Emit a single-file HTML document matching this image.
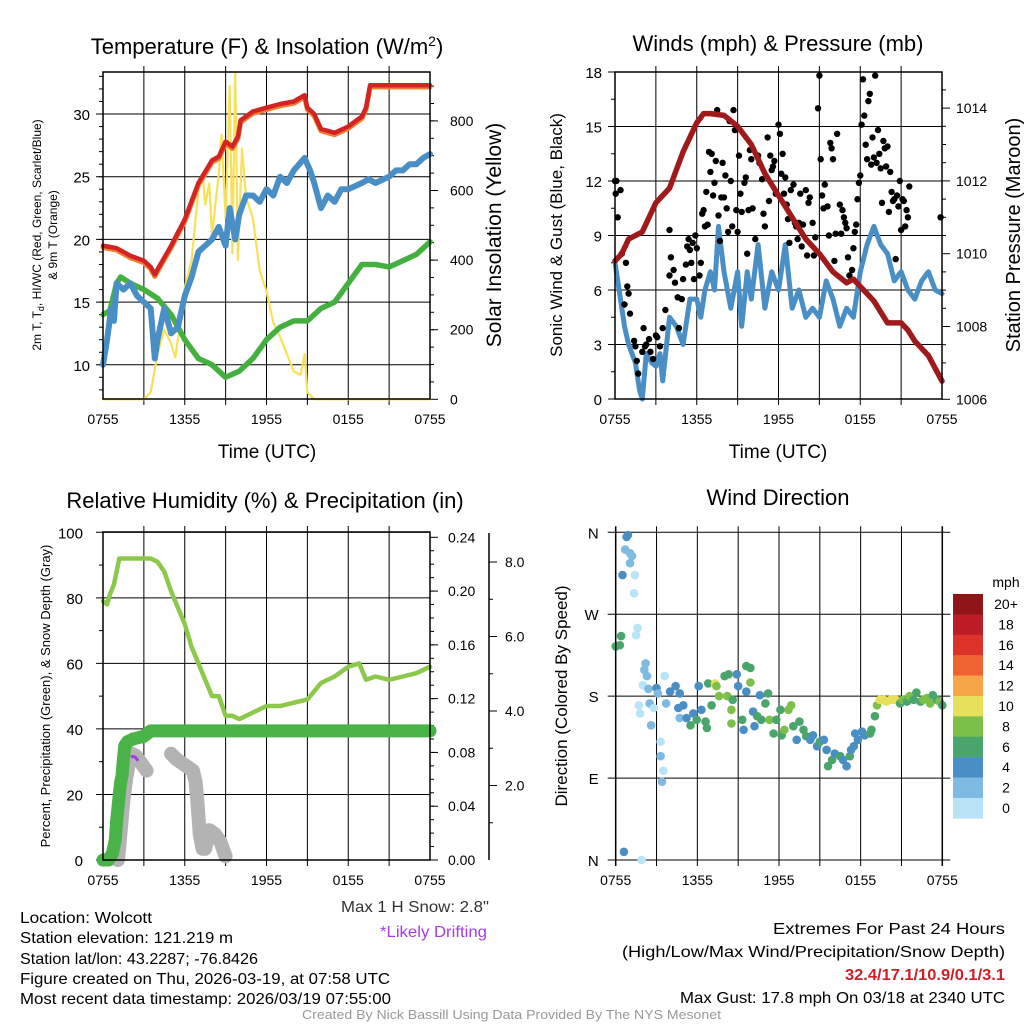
<!DOCTYPE html>
<html><head><meta charset="utf-8"><style>
html,body{margin:0;padding:0;background:#fff}
svg{display:block;font-family:"Liberation Sans",Arial,sans-serif}
</style></head><body>
<svg id="c" width="1024" height="1024" viewBox="0 0 1024 1024" xmlns="http://www.w3.org/2000/svg">
<g font-size="22" text-anchor="middle" fill="#000">
<text x="267" y="54">Temperature (F) &amp; Insolation (W/m<tspan dy="-8" font-size="14">2</tspan><tspan dy="8">)</tspan></text>
<text x="778" y="51">Winds (mph) &amp; Pressure (mb)</text>
<text x="265" y="508">Relative Humidity (%) &amp; Precipitation (in)</text>
<text x="778" y="505">Wind Direction</text>
</g>
<g font-size="19" text-anchor="middle">
<text x="267" y="458">Time (UTC)</text>
<text x="778" y="458">Time (UTC)</text>
</g>
<text transform="translate(41,235) rotate(-90)" font-size="12" text-anchor="middle">2m T, T<tspan font-size="9" dy="3">d</tspan><tspan dy="-3">, HI/WC (Red, Green, Scarlet/Blue)</tspan></text>
<text transform="translate(57,235) rotate(-90)" font-size="12" text-anchor="middle">&amp; 9m T (Orange)</text>
<text transform="translate(501,235) rotate(-90)" font-size="21" text-anchor="middle">Solar Insolation (Yellow)</text>
<text transform="translate(562,235) rotate(-90)" font-size="17" text-anchor="middle">Sonic Wind &amp; Gust (Blue, Black)</text>
<text transform="translate(1020,235) rotate(-90)" font-size="20" text-anchor="middle">Station Pressure (Maroon)</text>
<text transform="translate(50,696) rotate(-90)" font-size="13" text-anchor="middle">Percent, Precipitation (Green), &amp; Snow Depth (Gray)</text>
<text transform="translate(567,696) rotate(-90)" font-size="17" text-anchor="middle">Direction (Colored By Speed)</text>
<g font-size="16">
<text x="341" y="912" textLength="148" lengthAdjust="spacingAndGlyphs" fill="#333">Max 1 H Snow: 2.8"</text>
<text x="380" y="937" textLength="107" lengthAdjust="spacingAndGlyphs" fill="#a33de8">*Likely Drifting</text>
<text x="20" y="923" textLength="132" lengthAdjust="spacingAndGlyphs">Location: Wolcott</text>
<text x="20" y="943" textLength="213" lengthAdjust="spacingAndGlyphs">Station elevation: 121.219 m</text>
<text x="20" y="964" textLength="238" lengthAdjust="spacingAndGlyphs">Station lat/lon: 43.2287; -76.8426</text>
<text x="20" y="984" textLength="370" lengthAdjust="spacingAndGlyphs">Figure created on Thu, 2026-03-19, at 07:58 UTC</text>
<text x="20" y="1004" textLength="371" lengthAdjust="spacingAndGlyphs">Most recent data timestamp: 2026/03/19 07:55:00</text>
<text x="773" y="934" textLength="232" lengthAdjust="spacingAndGlyphs">Extremes For Past 24 Hours</text>
<text x="622" y="957" textLength="383" lengthAdjust="spacingAndGlyphs">(High/Low/Max Wind/Precipitation/Snow Depth)</text>
<text x="845" y="980" textLength="160" lengthAdjust="spacingAndGlyphs" fill="#cc2027" font-weight="bold">32.4/17.1/10.9/0.1/3.1</text>
<text x="680" y="1003" textLength="325" lengthAdjust="spacingAndGlyphs">Max Gust: 17.8 mph On 03/18 at 2340 UTC</text>
<text x="302" y="1019" textLength="419" lengthAdjust="spacingAndGlyphs" font-size="13" fill="#999">Created By Nick Bassill Using Data Provided By The NYS Mesonet</text>
</g>
</svg>
<script>
// ---------- data ----------
var timeTicks=["0755","1355","1955","0155","0755"];
var tempH=[0,0.5,1,2,3,3.5,3.8,4,5,6,7,8,8.5,9,9.5,9.9,10.1,11,12,13,14,14.8,15,15.5,16,17,18,19,19.3,19.6,24];
var tempRed=[19.5,19.4,19.3,18.7,18.3,17.8,17.2,17.6,19.5,21.6,24.5,26.3,26.6,27.8,27.4,28.2,29.5,30.2,30.5,30.8,31.0,31.5,30.5,30.0,28.8,28.5,29,29.8,30.5,32.3,32.3];
var blueH=[0,0.3,0.6,0.8,1,1.5,2,2.5,3,3.5,3.8,4,4.5,5,5.5,6,6.5,7,7.5,8,8.5,9,9.3,9.7,10,10.5,11,11.5,12,12.5,13,13.5,14,14.8,15.2,15.5,16,16.5,17,17.5,18,19,19.5,20,21,21.5,22,22.5,23,23.5,24];
var tempBlue=[10,12,14.5,13.5,16.5,16,16.5,15.5,15,14.5,10.5,12,14.5,12.5,13,15.5,17,19,19.5,20,21,19.5,22.5,20,22,23.5,23.5,23,24,23.5,25,24.5,25.5,26.5,25.5,24.5,22.5,23.5,23,24,24,24.5,24.8,24.5,25,25.5,25.5,26,26,26.5,26.8];
var greenH=[0,0.5,1,1.3,2,3,4,5,6,7,8,9,10,11,12,13,14,15,16,17,18,19,20,21,22,23,24];
var tempGreen=[14,14.3,16.5,17,16.5,16,15.3,14,12,10.5,10,9,9.5,10.5,12,13,13.5,13.5,14.5,15,16.5,18,18,17.8,18.3,18.8,19.8];
var solarH=[0,3,3.5,4,4.5,5,5.3,5.8,6,6.5,7,7.3,7.5,7.8,8,8.5,8.7,9,9.3,9.5,9.7,9.9,10.2,10.5,11,11.5,12,12.5,13,13.5,14,14.5,14.8,15,15.5,24];
var solar=[0,0,20,130,200,160,120,250,320,400,600,650,560,620,470,650,760,520,900,420,940,400,720,580,520,370,310,220,180,130,80,70,130,20,0,0];
var windH=[0,0.3,0.7,1,1.5,1.8,2,2.3,2.7,3,3.3,3.5,4,4.5,5,5.5,6,6.3,6.6,7,7.3,7.6,8,8.5,9,9.3,9.7,10,10.5,11,11.5,12,12.5,13,13.5,14,14.5,15,15.5,16,16.5,17,17.5,18,18.5,19,19.5,20,20.5,21,21.5,22,22.5,23,23.5,24];
var wind=[7.5,6,4,3,2,0.5,0,2.5,2,1.8,2.5,1,4.5,4,3,5.5,5.5,4.5,6,7,6,9.5,7,5,7,4,7,5.5,8.5,5,7,6,8.5,5,6,4.5,5,4.5,6.5,5.5,4,5,4.5,7,8.5,9.5,8.5,8,6.5,7,6,5.5,6.5,7,6,5.8];
var presH=[0,0.5,1,2,3,4,5,6,6.5,7,8,9,10,11,12,13,14,15,16,17,17.5,18,19,20,21,21.5,22,23,24];
var pressure=[1009.8,1010,1010.4,1010.6,1011.4,1011.8,1012.8,1013.6,1013.85,1013.85,1013.8,1013.5,1013,1012.2,1011.6,1011,1010.4,1010,1009.5,1009.2,1009.3,1009.1,1008.7,1008.1,1008.1,1007.9,1007.6,1007.2,1006.5];
var gustH=[0,0.05,0.1,0.2,0.4,0.5,0.7,0.8,0.9,1,1.1,1.4,1.5,1.6,1.7,2,2.1,2.2,2.3,2.5,2.6,2.8,3,3.1,3.3,3.5,3.7,4,4,4.1,4.3,4.4,4.6,4.7,4.9,5,5.2,5.3,5.4,5.5,5.6,5.7,5.8,5.9,6,6.2,6.3,6.4,6.5,6.6,6.7,6.8,6.9,7,7.1,7.2,7.3,7.4,7.5,7.6,7.7,7.8,7.9,8,8.1,8.2,8.3,8.4,8.5,8.6,8.7,8.8,8.9,9,9.1,9.2,9.3,9.5,9.6,9.7,9.8,9.9,10,10.1,10.3,10.5,10.6,10.8,10.9,11,11.2,11.3,11.4,11.5,11.6,11.7,11.8,12,12.1,12.2,12.3,12.4,12.5,12.6,12.7,12.8,12.9,13.1,13.2,13.3,13.4,13.5,13.6,13.7,13.8,14,14.1,14.2,14.3,14.5,14.6,14.7,14.9,15,15.1,15.2,15.3,15.4,15.6,15.7,15.8,15.9,16,16.1,16.2,16.3,16.5,16.6,16.7,16.8,16.9,17,17.1,17.2,17.4,17.5,17.6,17.7,17.8,17.9,18,18.1,18.2,18.3,18.4,18.5,18.6,18.7,18.8,18.9,19,19.1,19.2,19.3,19.4,19.5,19.6,19.7,19.8,19.9,20,20.1,20.2,20.3,20.4,20.5,20.6,20.7,20.8,20.9,21,21.1,21.2,21.3,21.4,21.5,21.6,23.9];
var gust=[12,11.3,12,10,11.5,8,5.2,7.5,6.2,5.8,4.7,3.2,2.9,2.1,1.4,2.6,3.9,2.9,3,3.3,2.6,2.2,3.5,3.4,2.9,3.9,4.9,9.3,6.8,7.8,7.1,6.4,5.6,3.9,5.5,6.6,7.4,8.4,8.8,8.2,7.5,8.6,6.6,9,8.3,6.8,7.5,10.2,10.4,9.5,11.4,9.6,13.6,12.5,13.5,11.2,11.9,13.1,15.9,10.1,8.7,11.1,13,11.1,12.3,10.5,9.2,15.3,12,9.5,15.9,14.8,10.4,9.2,13.4,11.3,10.3,11.9,12.2,8,10.4,13.7,13.2,10.5,8.8,13.4,13,12.1,10.2,9.5,14.4,10.9,13.4,12.6,12.8,13.1,11.3,15.1,14.6,12.4,13.5,11.3,12.2,10.7,9.9,8.6,11.5,11.8,9.7,9.5,8.8,9.7,11.3,8.4,9.6,11.5,7.9,10.8,11.1,9.7,7.9,8.9,16,17.8,13.2,11.2,10.5,11.8,10.6,9,14.1,13.8,13.2,7.6,9.1,14.6,10.7,9.1,10.4,10,9.7,9.4,7.8,6.8,7.1,8.3,9.2,9.6,11,11.9,12.3,15.1,17.6,15.6,14,13.2,16.4,16.8,12.9,14.4,13.3,17.8,13,14.8,13.5,12.7,10.8,14.2,13.8,12.8,13.9,10.3,12.5,11.4,10.9,11,7.7,11.2,10.6,12,9.3,11,10.9,9.5,10.4,10,11.7,10];
var rhH=[0,0.3,0.5,0.8,1.2,2,3,3.5,4,4.5,5,5.5,6,6.5,7,7.5,8,8.5,9,9.5,10,10.5,11,12,13,14,15,16,17,18,18.8,19.3,20,21,22,23,24];
var rh=[79,78,81,84,92,92,92,92,91,88,82,77,72,65,60,55,50,50,44,44,43,44,45,47,47,48,49,54,56,59,60,55,56,55,56,57,59];
var precipH=[0,0.4,0.7,0.9,1,1.1,1.2,1.3,1.4,1.5,1.6,1.8,2.2,3,3.5,24];
var precip=[0,0,0.005,0.015,0.029,0.039,0.049,0.058,0.063,0.075,0.085,0.088,0.09,0.092,0.096,0.096];
var snowH1=[1.1,1.3,1.5,1.7,1.9,2.1,2.4,2.8,3.2];
var snow1=[0,0.8,1.6,2.2,2.6,2.85,2.8,2.6,2.4];
var snowH2=[5,5.4,5.8,6.2,6.6,6.8,6.9,7,7.1,7.3,7.5,7.8,8.2,8.6,9];
var snow2=[2.85,2.7,2.6,2.5,2.4,2.1,1.7,1.2,0.7,0.3,0.3,0.8,0.7,0.5,0.1];
var dirH=[0,0.3,0.4,0.8,0.9,0.7,1.05,1.2,1.05,0.5,1.4,1.35,1.6,1.5,0.6,1.9,2.2,2.1,2.3,2.0,2.4,1.7,1.8,2.5,2.6,2.8,3.0,3.1,3.6,3.7,3.3,3.3,3.5,3.4,4.0,4.4,4.7,4.97,4.6,4.7,5.2,5.5,5.7,5.95,6.1,6.3,6.6,6.7,6.8,7.05,7.3,7.4,7.6,8.0,8.3,8.2,8.5,8.6,8.5,8.9,9.0,9.3,9.4,9.6,9.6,9.9,9.9,10.1,10.2,10.4,10.6,10.7,11.0,11.2,11.3,11.6,11.8,12.1,12.2,12.4,12.7,12.9,13.05,13.3,13.5,13.8,14.0,14.3,14.5,14.8,15.0,15.3,15.5,15.6,15.9,16.1,16.5,16.7,16.97,17.2,17.5,17.3,17.6,17.8,18.1,18.3,18.7,18.8,19.05,19.2,19.4,19.7,19.9,20.2,20.4,20.6,20.9,21.1,21.4,21.6,21.9,22.1,22.4,22.6,22.85,23.1,23.3,23.6,23.8,24];
var dirDeg=[234.6,236,246,355,357,341,337,334,326,313,313,293,255,247,9,0,216,209,202,192,188,170,161,172,148,167,189,183,202,172,130,114,98,86,185,191,183,170,167,156,156,148,161,154,191,165,152,145,194,170,194,191,180,202,204,180,165,176,150,204,191,154,143,185,213,211,195,163,147,158,181,154,172,183,154,139,154,165,137,143,165,170,147,132,152,143,136,132,137,125,130,132,121,103,110,117,114,110,103,114,125,121,139,132,141,137,139,143,158,170,176,176,174,176,176,176,172,176,174,180,176,184,174,176,178,172,181,176,174,170];
var dirSpeed=[6,6,6,4,4,2,2,2,2,4,0,0,0,0,4,0,2,2,2,0,2,0,0,2,2,0,4,2,0,2,0,2,0,2,4,4,4,4,4,2,4,6,4,6,4,4,6,6,6,6,10,8,8,6,6,8,8,6,8,4,4,6,4,4,6,6,8,4,4,6,4,6,6,6,8,6,6,6,6,8,8,8,6,4,6,6,6,4,4,4,6,4,4,6,6,4,6,4,4,6,4,4,4,4,4,4,6,6,6,8,10,10,10,10,10,10,6,8,6,8,6,6,6,8,8,8,6,6,8,6];
var speedLabels=["20+","18","16","14","12","10","8","6","4","2","0"];
var speedColors=["#8f1519","#bc1c25","#dd3229","#ef6231","#f6a646","#e6e05a","#7cc04a","#4aa56c","#4a8ec6","#7fbae2","#b9e3f7"];
var tempTicks=[10,15,20,25,30];
var solarTicks=[0,200,400,600,800];
var windTicks=[0,3,6,9,12,15,18];
var presTicks=[1006,1008,1010,1012,1014];
var rhTicks=[0,20,40,60,80,100];
var precipTicks=["0.00","0.04","0.08","0.12","0.16","0.20","0.24"];
var snowTicks=["2.0","4.0","6.0","8.0"];
var dirTicks=["N","E","S","W","N"];

// ---------- helpers ----------
var svg=document.getElementById('c'),NS="http://www.w3.org/2000/svg";
function mk(tag,attrs,name,parent){
  var el=document.createElementNS(NS,tag);
  for(var k in attrs)el.setAttribute(k,attrs[k]);
  
  
  (parent||svg).appendChild(el);return el;
}
function txt(x,y,s,size,anchor,name,fill){var t=mk('text',{x:x,y:y,'font-size':size,'text-anchor':anchor||'middle',fill:fill||'#000'},name);t.textContent=s;return t;}
function line(xs,ys,fx,fy,col,w,name){var p='';for(var i=0;i<xs.length;i++)p+=(i?'L':'M')+fx(xs[i]).toFixed(1)+','+fy(ys[i]).toFixed(1);
  return mk('path',{d:p,fill:'none',stroke:col,'stroke-width':w,'stroke-linejoin':'round','stroke-linecap':'round'},name);}
function frame(X0,X1,Y0,Y1,fx,pfx){
  for(var h=3;h<24;h+=3)mk('line',{x1:fx(h),x2:fx(h),y1:Y0-6,y2:Y1+6,stroke:'#000','stroke-width':1},pfx+'-vgrid');
  for(var i=0;i<timeTicks.length;i++)txt(fx(i*6),Y1+25,timeTicks[i],14,'middle',pfx+'-x-tick-label');
}
function box(X0,X1,Y0,Y1,pfx){mk('rect',{x:X0,y:Y0,width:X1-X0,height:Y1-Y0,fill:'none',stroke:'#000','stroke-width':1.5},pfx+'-plot-frame');}

// ---------- Panel 1 ----------
(function(){
  var X0=103,X1=430,Y0=72,Y1=399;
  var fx=function(h){return X0+h*(X1-X0)/24;};
  var fy=function(v){return 114+(30-v)*12.54;};
  var fs=function(v){return 399.3-v*0.348;};
  frame(X0,X1,Y0,Y1,fx,'p1');
  tempTicks.forEach(function(t){mk('line',{x1:X0-7,x2:X1,y1:fy(t),y2:fy(t),stroke:'#000','stroke-width':1},'p1-hgrid');txt(X0-13,fy(t)+6,String(t),15,'end','p1-y-tick-label');});
  for(var v=8;v<=33;v++)mk('line',{x1:X0-4,x2:X0,y1:fy(v),y2:fy(v),stroke:'#000','stroke-width':1},'p1-minor-tick');
  solarTicks.forEach(function(t){mk('line',{x1:X1,x2:X1+8,y1:fs(t),y2:fs(t),stroke:'#000','stroke-width':1},'p1-right-tick');txt(X1+20,fs(t)+5,String(t),14,'start','p1-right-tick-label');});
  for(var s=50;s<=900;s+=50)mk('line',{x1:X1,x2:X1+4,y1:fs(s),y2:fs(s),stroke:'#000','stroke-width':1},'p1-right-minor-tick');
  line(solarH,solar,fx,fs,'#f8e15a',2.2,'solar-insolation-line');
  line(greenH,tempGreen,fx,fy,'#44b040',5.5,'dewpoint-line');
  line(blueH,tempBlue,fx,fy,'#4a8ec6',6,'wind-chill-line');
  line(tempH,tempRed.map(function(v){return v-0.15;}),fx,fy,'#f08030',5,'temp-9m-line');
  line(tempH,tempRed,fx,fy,'#d42323',4.5,'temp-2m-line');
  box(X0,X1,Y0,Y1,'p1');
})();

// ---------- Panel 2 ----------
(function(){
  var X0=615,X1=942,Y0=72,Y1=399;
  var fx=function(h){return X0+h*(X1-X0)/24;};
  var fy=function(v){return Y1-v*(Y1-Y0)/18;};
  var fp=function(p){return 399.3-(p-1006)*36.4;};
  frame(X0,X1,Y0,Y1,fx,'p2');
  windTicks.forEach(function(t){mk('line',{x1:X0-7,x2:X1,y1:fy(t),y2:fy(t),stroke:'#000','stroke-width':1},'p2-hgrid');txt(X0-13,fy(t)+6,String(t),15,'end','p2-y-tick-label');});
  for(var v=1.5;v<18;v+=3)mk('line',{x1:X0-4,x2:X0,y1:fy(v),y2:fy(v),stroke:'#000','stroke-width':1},'p2-minor-tick');
  presTicks.forEach(function(t){mk('line',{x1:X1,x2:X1+8,y1:fp(t),y2:fp(t),stroke:'#000','stroke-width':1},'p2-right-tick');txt(X1+14,fp(t)+5,String(t),14,'start','p2-right-tick-label');});
  for(var p=1007;p<=1014.5;p+=0.5)if(p%2)mk('line',{x1:X1,x2:X1+4,y1:fp(p),y2:fp(p),stroke:'#000','stroke-width':1},'p2-right-minor-tick');
  line(windH,wind,fx,fy,'#4a8ec6',5,'sonic-wind-line');
  for(var i=0;i<gust.length;i++){mk('circle',{cx:fx(gustH[i]).toFixed(1),cy:fy(gust[i]).toFixed(1),r:3.2,fill:'#000'},'gust-point');}
  line(presH,pressure,fx,fp,'#a01a1c',5.5,'pressure-line');
  box(X0,X1,Y0,Y1,'p2');
})();

// ---------- Panel 3 ----------
(function(){
  var X0=103,X1=430,Y0=532,Y1=860;
  var fx=function(h){return X0+h*(X1-X0)/24;};
  var fy=function(v){return Y1-v*3.277;};
  var fpr=function(p){return Y1-p/0.24*322.7;};
  var fsn=function(s){return Y1-s*37.25;};
  frame(X0,X1,Y0,Y1,fx,'p3');
  rhTicks.forEach(function(t){mk('line',{x1:X0-7,x2:X1,y1:fy(t),y2:fy(t),stroke:'#000','stroke-width':1},'p3-hgrid');txt(X0-20,fy(t)+6,String(t),15,'end','p3-y-tick-label');});
  for(var v=10;v<100;v+=20)mk('line',{x1:X0-4,x2:X0,y1:fy(v),y2:fy(v),stroke:'#000','stroke-width':1},'p3-minor-tick');
  precipTicks.forEach(function(t){var y=fpr(parseFloat(t));mk('line',{x1:X1,x2:X1+8,y1:y,y2:y,stroke:'#000','stroke-width':1},'p3-right-tick');txt(X1+18,y+5,t,14,'start','p3-right-tick-label');});
  for(var p=0.01;p<0.24;p+=0.01)mk('line',{x1:X1,x2:X1+4,y1:fpr(p),y2:fpr(p),stroke:'#000','stroke-width':1},'p3-right-minor-tick');
  mk('line',{x1:489,x2:489,y1:533,y2:860,stroke:'#000','stroke-width':1.5},'snow-axis-line');
  snowTicks.forEach(function(t){var y=fsn(parseFloat(t));mk('line',{x1:489,x2:497,y1:y,y2:y,stroke:'#000','stroke-width':1},'snow-axis-tick');txt(505,y+5,t,14,'start','snow-axis-tick-label');});
  for(var s=1;s<=8;s+=2)mk('line',{x1:489,x2:493,y1:fsn(s),y2:fsn(s),stroke:'#000','stroke-width':1},'snow-axis-minor-tick');
  line(snowH1,snow1,fx,fsn,'#b3b3b3',14,'snow-depth-line-1');
  line(snowH2,snow2,fx,fsn,'#b3b3b3',14,'snow-depth-line-2');
  mk('path',{d:'M131,757 Q135,755 138,761',fill:'none',stroke:'#a33de8','stroke-width':3},'drifting-marker');
  line(rhH,rh,fx,fy,'#8cc84b',4.5,'relative-humidity-line');
  line(precipH,precip,fx,fpr,'#4ab347',13,'precipitation-line');
  box(X0,X1,Y0,Y1,'p3');
})();

// ---------- Panel 4 ----------
(function(){
  var X0=615.7,X1=942.3,Y0=532.3,Y1=860;
  var fx=function(h){return X0+h*(X1-X0)/24;};
  var fy=function(d){return Y1-d*(Y1-Y0)/360;};
  frame(X0,X1,Y0,Y1,fx,'p4');
  dirTicks.forEach(function(t,i){var y=fy(i*90);mk('line',{x1:X0-8,x2:X1+8,y1:y,y2:y,stroke:'#000','stroke-width':1},'p4-hgrid');txt(X0-17,y+6,t,15,'end','p4-y-tick-label');});
  for(var i=0;i<dirDeg.length;i++){var k=Math.min(10,Math.floor(dirSpeed[i]/2));mk('circle',{cx:fx(dirH[i]).toFixed(1),cy:fy(dirDeg[i]).toFixed(1),r:4.3,fill:speedColors[10-k]},'direction-point');}
  mk('line',{x1:X0,x2:X0,y1:Y0-6,y2:Y1+6,stroke:'#000','stroke-width':1.5},'p4-left-axis');
  mk('line',{x1:X1,x2:X1,y1:Y0-6,y2:Y1+6,stroke:'#000','stroke-width':1.5},'p4-right-axis');
  txt(1006,587,'mph',14,'middle','colorbar-title');
  for(var j=0;j<speedLabels.length;j++){
    mk('rect',{x:953,y:594+j*20.4,width:30,height:20.6,fill:speedColors[j]},'colorbar-bin');
    txt(1006,609+j*20.4,speedLabels[j],14,'middle','colorbar-label');
  }
})();
</script>
</body></html>
